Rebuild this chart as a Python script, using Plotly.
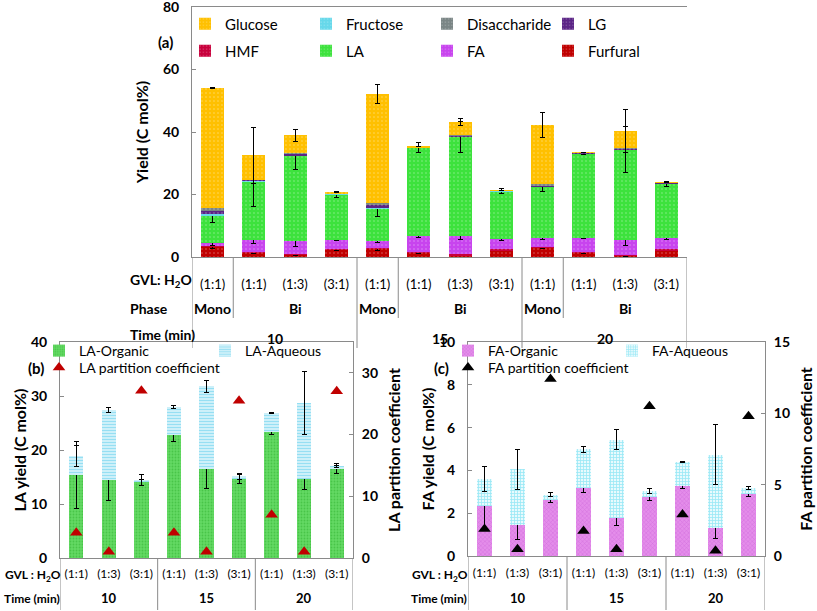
import plotly.graph_objects as go

W, H = 817, 611
def px(x): return x / W
def py(y): return 1 - y / H

FONT = "Lato"

# ---------------- Panel (a) data ----------------
a_ratio = ["(1:1)", "(1:1)", "(1:3)", "(3:1)", "(1:1)", "(1:1)", "(1:3)", "(3:1)", "(1:1)", "(1:1)", "(1:3)", "(3:1)"]
a_phase = ["Mono", "Bi", "Mono", "Bi", "Mono", "Bi"]
a_phase_pos = [0, 2, 4, 6, 8, 10]
a_time = ["10", "15", "20"]
a_time_pos = [1.5, 5.5, 9.5]

furfural = [3.2, 1.3, 0.8, 2.4, 2.7, 1.3, 0.6, 2.2, 2.9, 1.3, 0.5, 2.2]
hmf = [0.3, 0.3, 0.3, 0.3, 0.3, 0.3, 0.3, 0.3, 0.3, 0.3, 0.3, 0.3]
fa = [1.0, 4.0, 4.0, 2.9, 2.1, 5.1, 5.7, 3.2, 3.0, 4.6, 4.8, 3.5]
la = [8.8, 18.7, 27.4, 14.5, 10.4, 28.2, 31.8, 15.4, 16.2, 26.9, 28.8, 17.4]
fructose = [0.6, 0.1, 0.1, 0.1, 0.4, 0.1, 0.1, 0.1, 0.3, 0.1, 0.1, 0.2]
lg = [0.7, 0.3, 0.6, 0.1, 0.6, 0.1, 0.3, 0.1, 0.3, 0.1, 0.3, 0.1]
disaccharide = [1.2, 0.1, 0.1, 0.0, 0.9, 0.0, 0.1, 0.0, 0.3, 0.0, 0.1, 0.0]
glucose = [38.4, 7.7, 5.6, 0.2, 34.8, 0.4, 4.3, 0.1, 19.1, 0.3, 5.4, 0.1]

err_furfural = [0.5, 0.2, 0.2, 0.2, 0.5, 0.2, 0.2, 0.2, 0.3, 0.2, 0.2, 0.2]
err_fa = [0.9, 1.2, 1.6, 0.3, 0.6, 0.3, 1.0, 0.3, 0.5, 0.2, 1.8, 0.3]
err_la = [2.3, 8.0, 4.6, 1.0, 2.5, 1.6, 5.0, 0.8, 1.5, 0.4, 7.5, 0.8]
err_glucose = [0.2, 9.0, 2.0, None, 3.0, None, 1.2, None, 4.0, None, 7.0, None]

# ---------------- Panel (b)/(c) data ----------------
bc_ratio = ["(1:1)", "(1:3)", "(3:1)", "(1:1)", "(1:3)", "(3:1)", "(1:1)", "(1:3)", "(3:1)"]
bc_time = ["10", "15", "20"]
bc_time_pos = [1, 4, 7]

la_org = [15.3, 14.4, 14.0, 22.8, 16.4, 14.6, 23.4, 14.6, 16.4]
la_aq = [3.6, 13.0, 0.5, 5.1, 15.4, 0.5, 3.4, 14.1, 0.7]
err_la_org = [6.2, 3.8, 0.5, 1.3, 3.5, 0.8, 0.6, 1.9, 0.8]
err_la_aq = [1.9, 0.5, 1.0, 0.3, 1.1, 0.5, 0.1, 5.8, 0.4]
la_pc = [4.1, 1.0, 27.1, 4.1, 1.0, 25.5, 7.0, 1.0, 27.0]

fa_org = [2.32, 1.43, 2.63, 3.18, 1.79, 2.76, 3.27, 1.32, 2.88]
fa_aq = [1.26, 2.62, 0.24, 1.80, 3.65, 0.28, 1.12, 3.42, 0.30]
err_fa_org = [1.0, 0.65, 0.15, 0.2, 0.35, 0.15, 0.13, 0.5, 0.1]
err_fa_aq = [0.58, 0.95, 0.1, 0.12, 0.45, 0.1, 0.02, 1.4, 0.08]
fa_pc = [1.9, 0.47, 12.4, 1.75, 0.47, 10.5, 2.91, 0.37, 9.79]

fig = go.Figure()

def err(arr):
    return dict(type="data", array=arr, color="black", thickness=1, width=2.5)

def dotpat(fg="white"):
    return dict(shape=".", fgcolor=fg, fgopacity=0.4, size=4, solidity=0.12, fillmode="overlay")

xa = list(range(len(a_ratio)))
a_series = [
    ("Furfural", furfural, "#C00000", err_furfural, "legend2", 4),
    ("HMF", hmf, "#C8003C", None, "legend2", 1),
    ("FA", fa, "#C844EE", err_fa, "legend2", 3),
    ("LA", la, "#3DE23D", err_la, "legend2", 2),
    ("Fructose", fructose, "#66D8EA", None, "legend", 2),
    ("LG", lg, "#5B2486", None, "legend", 4),
    ("Disaccharide", disaccharide, "#7A8585", None, "legend", 3),
    ("Glucose", glucose, "#FFC000", err_glucose, "legend", 1),
]
for name, vals, col, e, leg, rank in a_series:
    fig.add_trace(go.Bar(
        x=xa, y=vals, name=name, xaxis="x", yaxis="y", width=0.56,
        marker=dict(color=col, line=dict(width=0), pattern=dotpat()),
        error_y=err(e) if e is not None else None,
        legend=leg, legendrank=rank,
    ))

xb = list(range(len(bc_ratio)))
fig.add_trace(go.Bar(
    x=xb, y=la_org, name="LA-Organic", xaxis="x2", yaxis="y2", width=0.44,
    marker=dict(color="#63D963", line=dict(width=0),
                pattern=dict(shape=".", fgcolor="#2FB02F", size=3, solidity=0.3, fillmode="overlay")),
    error_y=err(err_la_org), legend="legend3", legendrank=1, offsetgroup="b"))
fig.add_trace(go.Bar(
    x=xb, y=la_aq, name="LA-Aqueous", xaxis="x2", yaxis="y2", width=0.44,
    marker=dict(color="#E6F8FC", line=dict(width=0),
                pattern=dict(shape="-", fgcolor="#45C6EA", size=3, solidity=0.55, fillmode="overlay")),
    error_y=err(err_la_aq), legend="legend3", legendrank=2, offsetgroup="b"))
fig.add_trace(go.Scatter(
    x=xb, y=la_pc, name="LA partition coefficient", xaxis="x2", yaxis="y4", mode="markers",
    marker=dict(symbol="triangle-up", size=11, color="#C00000"), legend="legend4"))

fig.add_trace(go.Bar(
    x=xb, y=fa_org, name="FA-Organic", xaxis="x3", yaxis="y3", width=0.48,
    marker=dict(color="#E48DEA", line=dict(width=0),
                pattern=dict(shape="x", fgcolor="#C050D0", size=3, solidity=0.3, fillmode="overlay")),
    error_y=err(err_fa_org), legend="legend5", legendrank=1, offsetgroup="c"))
fig.add_trace(go.Bar(
    x=xb, y=fa_aq, name="FA-Aqueous", xaxis="x3", yaxis="y3", width=0.48,
    marker=dict(color="#E8FAFD", line=dict(width=0),
                pattern=dict(shape="+", fgcolor="#48D6EE", size=3, solidity=0.45, fillmode="overlay")),
    error_y=err(err_fa_aq), legend="legend5", legendrank=2, offsetgroup="c"))
fig.add_trace(go.Scatter(
    x=xb, y=fa_pc, name="FA partition coefficient", xaxis="x3", yaxis="y5", mode="markers",
    marker=dict(symbol="triangle-up", size=11, color="black"), legend="legend6"))

LC = "#8A8A8A"
tickfont = dict(family=FONT, size=14, color="black", weight="bold")
titlefont = dict(family=FONT, size=16, color="black", weight="bold")

def xaxis(domain, n, anchor, standoff, size):
    return dict(domain=domain, anchor=anchor, range=[-0.5, n - 0.5], showgrid=False, zeroline=False,
                showline=True, linecolor=LC, linewidth=1, mirror=True, ticks="", automargin=False,
                tickmode="array", tickvals=list(range(n)),
                tickfont=dict(family=FONT, size=size, color="black"), ticklabelstandoff=standoff)

def yaxis(domain, rng, dtick, anchor, title, standoff, side="left", overlaying=None, lsoff=9):
    d = dict(domain=domain, anchor=anchor, range=rng, dtick=dtick, showgrid=False, zeroline=False,
             showline=True, linecolor=LC, linewidth=1, ticks="inside", ticklen=4, tickcolor=LC,
             tickfont=tickfont, side=side, ticklabelstandoff=lsoff, automargin=False,
             ticklabeloverflow="allow",
             title=dict(text=title, font=titlefont, standoff=standoff))
    if overlaying:
        d["overlaying"] = overlaying
    return d

xa_ax = xaxis([px(192), px(687)], 12, "y", 15, 13)
xa_ax["ticktext"] = a_ratio
xb_ax = xaxis([px(60), px(353)], 9, "y2", 5, 12)
xb_ax["ticktext"] = bc_ratio
xc_ax = xaxis([px(468), px(765)], 9, "y3", 6, 12)
xc_ax["ticktext"] = bc_ratio

legend_common = dict(orientation="h", xanchor="left", yanchor="middle", bgcolor="rgba(0,0,0,0)",
                     traceorder="normal", itemwidth=30, entrywidthmode="pixels",
                     itemclick=False, itemdoubleclick=False)

fig.update_layout(
    width=W, height=H, margin=dict(l=0, r=0, t=0, b=0, autoexpand=False),
    paper_bgcolor="white", plot_bgcolor="white",
    font=dict(family=FONT, color="black"),
    barmode="stack", bargap=0,
    xaxis=xa_ax,
    yaxis=yaxis([py(257), py(7)], [0, 80], 20, "x", "Yield (C mol%)", 10),
    xaxis2=xb_ax,
    yaxis2=yaxis([py(558), py(342)], [0, 40], 10, "x2", "LA yield (C mol%)", 0),
    yaxis4=yaxis([py(558), py(342)], [0, 35], 10, "x2", "LA partition coefficient", 11,
                 side="right", overlaying="y2", lsoff=5),
    xaxis3=xc_ax,
    yaxis3=yaxis([py(556), py(342)], [0, 10], 2, "x3", "FA yield (C mol%)", 0),
    yaxis5=yaxis([py(556), py(342)], [0, 15], 5, "x3", "FA partition coefficient", 11,
                 side="right", overlaying="y3", lsoff=5),
    legend=dict(legend_common, x=px(185), y=py(24), entrywidth=76, font=dict(family=FONT, size=15)),
    legend2=dict(legend_common, x=px(185), y=py(51), entrywidth=76, font=dict(family=FONT, size=15)),
    legend3=dict(legend_common, x=px(39), y=py(351), entrywidth=121, font=dict(family=FONT, size=14)),
    legend4=dict(legend_common, x=px(39), y=py(368), font=dict(family=FONT, size=14)),
    legend5=dict(legend_common, x=px(448), y=py(351), entrywidth=119, font=dict(family=FONT, size=14)),
    legend6=dict(legend_common, x=px(448), y=py(368), font=dict(family=FONT, size=14)),
)

ann = []
def label(x, y, text, xref="paper", xanchor="left", bold=True, size=14):
    ann.append(dict(x=x, y=y, xref=xref, yref="paper", text=text, showarrow=False,
                    xanchor=xanchor, yanchor="middle",
                    font=dict(family=FONT, size=size, color="black", weight="bold" if bold else "normal")))

# panel labels
label(px(165), py(42), "(a)", xanchor="center", size=15)
label(px(36), py(368), "(b)", xanchor="center", size=15)
label(px(441), py(368), "(c)", xanchor="center", size=15)

# panel (a) table
label(px(128), py(280), "GVL: H<sub>2</sub>O")
label(px(128), py(308), "Phase")
label(px(128), py(334), "Time (min)")
for t, p in zip(a_phase, a_phase_pos):
    label(p, py(308), t, xref="x", xanchor="center")
for t, p in zip(a_time, a_time_pos):
    label(p, py(338), t, xref="x", xanchor="center")

# panel (b) table
label(px(3), py(575), "GVL : H<sub>2</sub>O", size=12)
label(px(2), py(598), "Time (min)", size=12)
for t, p in zip(bc_time, bc_time_pos):
    label(p, py(598), t, xref="x2", xanchor="center", size=13)
# panel (c) table
label(px(410), py(575), "GVL : H<sub>2</sub>O", size=12)
label(px(409), py(598), "Time (min)", size=12)
for t, p in zip(bc_time, bc_time_pos):
    label(p, py(598), t, xref="x3", xanchor="center", size=13)

fig.update_layout(annotations=ann)

shapes = []
def vline(x, xref, y0, y1):
    shapes.append(dict(type="line", xref=xref, yref="paper", x0=x, x1=x, y0=py(y0), y1=py(y1),
                       line=dict(color=LC, width=1)))
for x in [-0.5, 3.5, 7.5, 11.5]:
    vline(x, "x", 257, 348)
for x in [0.5, 4.5, 8.5]:
    vline(x, "x", 257, 318)
for x in [-0.5, 2.5, 5.5, 8.5]:
    vline(x, "x2", 558, 610)
    vline(x, "x3", 556, 610)
fig.update_layout(shapes=shapes)

fig.write_html("out.html", config={"displayModeBar": False},
               post_script="document.body.style.margin='0px';")
